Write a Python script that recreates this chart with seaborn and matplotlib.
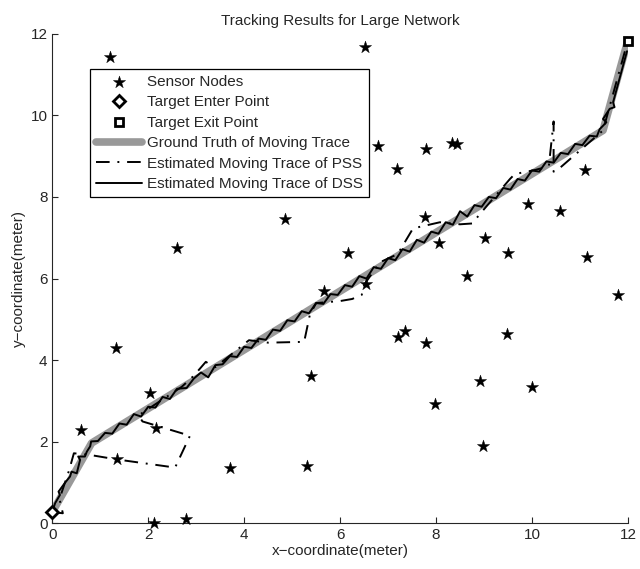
import matplotlib
matplotlib.use("Agg")
import matplotlib.pyplot as plt
import seaborn as sns
import pandas as pd

sns.set_style("ticks")
plt.rcParams['font.family'] = ['Liberation Sans', 'DejaVu Sans']

# Sensor nodes
sensor_x = [1.2, 4.85, 2.6, 5.67, 6.52, 6.78, 7.8, 8.33, 8.43, 7.18, 11.1, 9.92, 10.58,
            7.77, 6.17, 8.06, 9.02, 9.5, 11.14, 8.65, 6.54, 11.8, 7.21, 7.35, 7.78, 9.47,
            8.92, 9.99, 7.98, 8.98, 1.33, 0.59, 2.03, 2.16, 1.34, 3.70, 5.30, 5.39, 2.12, 2.78]
sensor_y = [11.43, 7.46, 6.75, 5.70, 11.67, 9.26, 9.18, 9.32, 9.30, 8.69, 8.67, 7.83, 7.66,
            7.50, 6.63, 6.86, 7.00, 6.63, 6.52, 6.07, 5.87, 5.60, 4.57, 4.71, 4.42, 4.65,
            3.49, 3.34, 2.93, 1.89, 4.31, 2.29, 3.20, 2.34, 1.57, 1.35, 1.41, 3.61, 0.02, 0.12]

enter_x, enter_y = [0.0], [0.28]
exit_x, exit_y = [12.0], [11.83]

truth_x = [0.0, 0.82, 11.48, 12.0]
truth_y = [0.28, 1.97, 9.63, 11.84]

pss_x = [0.0, 0.22, 0.15, 0.35, 0.45, 0.78, 1.34, 2.56, 2.87, 1.88, 1.80, 2.70, 2.95, 3.20,
         3.31, 3.40, 4.10, 4.50, 5.25, 5.37, 5.50, 6.00, 6.25, 6.45, 6.50, 6.83, 7.20, 7.52,
         8.08, 8.50, 8.75, 9.00, 9.54, 9.64, 10.06, 10.35, 10.45, 10.45, 10.55, 11.48, 12.0]
pss_y = [0.28, 0.25, 0.60, 1.30, 1.72, 1.68, 1.57, 1.37, 2.15, 2.50, 2.65, 3.35, 3.62, 3.96,
         3.88, 3.83, 4.49, 4.43, 4.45, 5.12, 5.40, 5.45, 5.50, 5.60, 5.85, 6.40, 6.60, 7.23,
         7.38, 7.33, 7.35, 7.70, 8.44, 8.56, 8.66, 8.75, 9.85, 8.62, 8.68, 9.63, 11.84]

dss_x = [0.0, 0.06, 0.16, 0.13, 0.26, 0.37, 0.40, 0.51, 0.58, 0.54, 0.68, 0.72, 0.79, 0.81,
         0.95, 1.10, 1.25, 1.40, 1.55, 1.70, 1.85, 2.00, 2.15, 2.30, 2.45, 2.60, 2.80, 2.95,
         3.10, 3.25, 3.40, 3.55, 3.70, 3.85, 4.00, 4.15, 4.30, 4.45, 4.60, 4.75, 4.90, 5.05,
         5.20, 5.35, 5.50, 5.65, 5.80, 5.95, 6.10, 6.25, 6.40, 6.55, 6.70, 6.85, 7.00, 7.15,
         7.30, 7.45, 7.60, 7.75, 7.90, 8.05, 8.20, 8.35, 8.50, 8.65, 8.80, 8.95, 9.10, 9.25,
         9.40, 9.55, 9.70, 9.85, 10.00, 10.15, 10.30, 10.45, 10.60, 10.75, 10.90, 11.05, 11.20,
         11.35, 11.41, 11.55, 11.48, 11.62, 11.72, 11.69, 11.98]
dss_y = [0.29, 0.50, 0.70, 0.78, 0.99, 1.15, 1.27, 1.23, 1.56, 1.64, 1.64, 1.76, 1.89, 2.01,
         2.02, 2.22, 2.20, 2.45, 2.42, 2.68, 2.62, 2.86, 2.84, 3.10, 3.05, 3.30, 3.32, 3.55,
         3.70, 3.58, 3.88, 3.90, 4.10, 4.08, 4.33, 4.30, 4.53, 4.50, 4.75, 4.72, 4.98, 4.95,
         5.20, 5.15, 5.40, 5.38, 5.62, 5.60, 5.84, 5.80, 6.06, 6.00, 6.28, 6.24, 6.50, 6.45,
         6.72, 6.66, 6.95, 6.88, 7.15, 7.10, 7.38, 7.32, 7.65, 7.52, 7.80, 7.76, 8.00, 7.97,
         8.22, 8.18, 8.44, 8.40, 8.65, 8.62, 8.87, 8.84, 9.08, 9.05, 9.30, 9.27, 9.50,
         9.48, 9.66, 9.83, 9.91, 10.16, 10.20, 10.32, 11.57]

sensors = pd.DataFrame({"x": sensor_x, "y": sensor_y})
truth = pd.DataFrame({"x": truth_x, "y": truth_y})
pss = pd.DataFrame({"x": pss_x, "y": pss_y})
dss = pd.DataFrame({"x": dss_x, "y": dss_y})

fig = plt.figure(figsize=(6.4, 5.69), dpi=100)
ax = fig.add_axes([0.0817, 0.080, 0.8995, 0.8608])

sns.scatterplot(data=sensors, x="x", y="y", marker="*", s=85, color="black",
                edgecolor="black", linewidth=0.3, ax=ax, clip_on=False, zorder=5,
                label="Sensor Nodes")
ax.plot(enter_x, enter_y, marker="D", ms=6.5, mfc="white", mec="black", mew=2,
        linestyle="none", label="Target Enter Point", zorder=6, clip_on=False)
ax.plot(exit_x, exit_y, marker="s", ms=5.5, mfc="white", mec="black", mew=2,
        linestyle="none", label="Target Exit Point", zorder=6, clip_on=False)
sns.lineplot(data=truth, x="x", y="y", sort=False, estimator=None, color="#999999",
             linewidth=5.5, ax=ax, label="Ground Truth of Moving Trace", zorder=2)
sns.lineplot(data=pss, x="x", y="y", sort=False, estimator=None, color="black",
             linewidth=1.4, ax=ax, label="Estimated Moving Trace of PSS", zorder=3)
ax.lines[-1].set_dashes([7, 4, 1, 4])
sns.lineplot(data=dss, x="x", y="y", sort=False, estimator=None, color="black",
             linewidth=1.4, ax=ax, label="Estimated Moving Trace of DSS", zorder=4)

ax.set_xlim(0, 12)
ax.set_ylim(0, 12)
ax.set_xticks([0, 2, 4, 6, 8, 10, 12])
ax.set_yticks([0, 2, 4, 6, 8, 10, 12])
ax.tick_params(direction="in", length=4, labelsize=11, width=0.8)
for s in ["top", "right"]:
    ax.spines[s].set_visible(False)
for s in ["left", "bottom"]:
    ax.spines[s].set_linewidth(0.8)

ax.set_xlabel("x\u2212coordinate(meter)", fontsize=11, labelpad=1)
ax.set_ylabel("y\u2212coordinate(meter)", fontsize=11, labelpad=3)
ax.set_title("Tracking Results for Large Network", fontsize=11, pad=6)

leg = ax.legend(loc="upper left", bbox_to_anchor=(0.0655, 0.928), borderaxespad=0,
                fontsize=11, frameon=True, fancybox=False, handlelength=3.0,
                handletextpad=0.35, labelspacing=0.42, borderpad=0.4)
leg.get_frame().set_edgecolor("black")
leg.get_frame().set_linewidth(0.9)
leg.get_frame().set_alpha(1)

fig.savefig("out.png", dpi=100)
